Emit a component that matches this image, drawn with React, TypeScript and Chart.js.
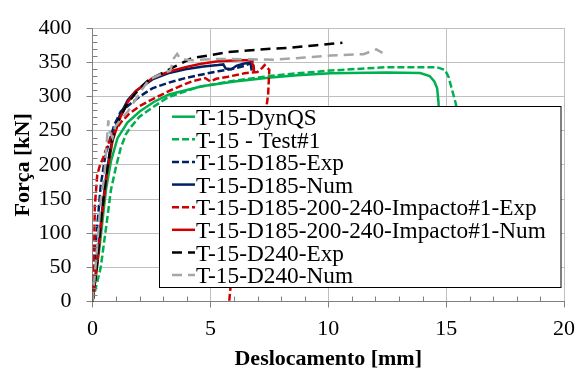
import React, { useEffect, useRef } from "react";
import { Chart, registerables } from "chart.js";

Chart.register(...registerables);

const FONT = "'Liberation Serif', 'Times New Roman', Times, serif";
Chart.defaults.font.family = FONT;

// ---- data (displacement [mm] / force [kN]) ----
const dynQsX = [0, 0.3, 0.57, 0.78, 1.06, 1.48, 2.0, 2.6, 3.24, 4.64, 6.03, 7.56, 8.7, 10.1, 12.5, 13.9, 14.3, 14.5, 14.62, 14.68, 14.7];
const dynQsY = [0, 80, 163, 205, 239, 262, 278, 292, 303, 315, 322, 328, 331, 334, 335, 334.5, 330, 322, 312, 290, 250];

const test1X = [0, 0.35, 0.64, 0.78, 0.99, 1.2, 1.42, 1.62, 1.98, 2.3, 2.54, 3.2, 4.5, 6.0, 7.5, 8.7, 10.1, 12.5, 14.6, 14.95, 15.1, 15.25, 15.4, 15.47, 15.52];
const test1Y = [0, 50, 125, 163, 196, 225, 245, 255, 270, 278, 284, 299, 314, 323, 330, 334, 338, 343, 343, 339, 329, 310, 291, 279, 260];

const d185ExpX = [0, 0.15, 0.35, 0.55, 0.71, 0.92, 1.2, 1.56, 2.0, 2.54, 3.2, 3.94, 4.6, 5.33, 6.0, 6.45, 6.7, 6.8, 6.85];
const d185ExpY = [0, 90, 170, 215, 234, 258, 278, 288, 300, 312, 320, 327, 332, 337, 341, 345, 349, 351, 339];

const d185NumX = [0, 0.2, 0.4, 0.6, 0.85, 1.15, 1.5, 1.84, 2.54, 3.2, 3.94, 4.7, 5.33, 5.55, 5.65, 5.9, 6.1, 6.4, 6.7, 6.75];
const d185NumY = [0, 60, 130, 190, 240, 272, 295, 308, 325, 334, 340, 344, 346, 347, 341, 340, 345, 348, 350, 338];

const impExpX = [0, 0.04, 0.1, 0.2, 0.32, 0.45, 0.64, 0.92, 1.2, 1.56, 2.0, 2.54, 3.24, 3.7, 4.2, 4.78, 5.0, 5.25, 5.75, 6.45, 7.0, 7.2, 7.3, 7.5, 7.45, 7.3, 6.6, 5.85, 5.8];
const impExpY = [0, 20, 140, 185, 200, 210, 229, 248, 262, 275, 286, 296, 308, 315, 322, 327, 322, 326, 329, 334, 336, 342, 346, 339, 303, 265, 150, 20, 0];

const impNumX = [0, 0.2, 0.4, 0.6, 0.85, 1.15, 1.5, 1.84, 2.54, 3.2, 3.94, 4.6, 5.33, 6.2, 6.73, 6.82, 6.86];
const impNumY = [0, 55, 125, 185, 235, 267, 292, 308, 327, 336, 343, 348, 351.6, 353, 353, 345, 335];

const d240ExpX = [0, 0.15, 0.36, 0.57, 0.78, 1.06, 1.48, 2.0, 2.4, 3.0, 3.5, 4.2, 5.76, 7.56, 8.27, 9.5, 10.6];
const d240ExpY = [0, 40, 120, 182, 229, 262, 290, 312, 325, 335, 344, 356, 365, 370, 371, 375, 378.6];

const d240NumX = [0, 0.15, 0.36, 0.5, 0.6, 0.67, 0.72, 0.85, 0.95, 1.1, 1.5, 2.0, 2.4, 3.0, 3.3, 3.45, 3.59, 3.73, 4.2, 5.3, 7.7, 9.0, 10.1, 11.5, 12.04, 12.3];
const d240NumY = [0, 60, 153, 182, 230, 265, 250, 240, 255, 262, 278, 305, 325, 334, 338, 356, 362.5, 355, 353, 355, 354, 357, 360, 362, 369, 364];

const xTickLabels = [0, 5, 10, 15, 20];
const yTickLabels = [0, 50, 100, 150, 200, 250, 300, 350, 400];

const xTitle = "Deslocamento [mm]";
const yTitle = "Força [kN]";

const GREEN = "#00B050";
const NAVY = "#002060";
const RED = "#D00000";
const BLACK = "#000000";
const GRAY = "#A6A6A6";
const SHORT = [7, 3];
const LONG = [10, 6];

const series = [
  { label: "T-15-DynQS", xs: dynQsX, ys: dynQsY, color: GREEN, dash: [] as number[] },
  { label: "T-15 - Test#1", xs: test1X, ys: test1Y, color: GREEN, dash: SHORT },
  { label: "T-15-D185-Exp", xs: d185ExpX, ys: d185ExpY, color: NAVY, dash: SHORT },
  { label: "T-15-D185-Num", xs: d185NumX, ys: d185NumY, color: NAVY, dash: [] as number[] },
  { label: "T-15-D185-200-240-Impacto#1-Exp", xs: impExpX, ys: impExpY, color: RED, dash: SHORT },
  { label: "T-15-D185-200-240-Impacto#1-Num", xs: impNumX, ys: impNumY, color: RED, dash: [] as number[] },
  { label: "T-15-D240-Exp", xs: d240ExpX, ys: d240ExpY, color: BLACK, dash: LONG },
  { label: "T-15-D240-Num", xs: d240NumX, ys: d240NumY, color: GRAY, dash: LONG },
];

const decorPlugin = {
  id: "decor",
  afterDraw(chart: any) {
    const { ctx, chartArea, scales } = chart;
    const xs = scales.x;
    const ys = scales.y;
    ctx.save();
    // minor tick marks (inside)
    ctx.strokeStyle = "#808080";
    ctx.lineWidth = 1;
    ctx.setLineDash([]);
    ctx.beginPath();
    for (let v = 10; v < 400; v += 10) {
      if (v % 50 === 0) continue;
      const py = Math.round(ys.getPixelForValue(v)) + 0.5;
      ctx.moveTo(chartArea.left, py);
      ctx.lineTo(chartArea.left + 5, py);
    }
    for (let v = 1; v < 20; v += 1) {
      if (v % 5 === 0) continue;
      const px = Math.round(xs.getPixelForValue(v)) + 0.5;
      ctx.moveTo(px, chartArea.bottom);
      ctx.lineTo(px, chartArea.bottom - 5);
    }
    ctx.stroke();

    // legend box
    const bx = 159.5, by = 106.5, bw = 401.5, bh = 181;
    ctx.fillStyle = "#ffffff";
    ctx.fillRect(bx, by, bw, bh);
    ctx.strokeStyle = "#000000";
    ctx.lineWidth = 1;
    ctx.strokeRect(bx, by, bw, bh);
    ctx.font = `23.3px ${FONT}`;
    ctx.textAlign = "left";
    ctx.textBaseline = "alphabetic";
    series.forEach((s, i) => {
      const base = 125 + i * 22.62;
      const ly = base - 8.3;
      ctx.beginPath();
      ctx.strokeStyle = s.color;
      ctx.lineWidth = 2.5;
      ctx.setLineDash(s.dash);
      ctx.moveTo(172, ly);
      ctx.lineTo(195, ly);
      ctx.stroke();
      ctx.setLineDash([]);
      ctx.fillStyle = "#000";
      ctx.fillText(s.label, 196, base);
    });

    // axis titles
    ctx.fillStyle = "#000";
    ctx.font = `bold 22px ${FONT}`;
    ctx.textAlign = "center";
    ctx.textBaseline = "alphabetic";
    ctx.fillText(xTitle, (chartArea.left + chartArea.right) / 2, 365);
    ctx.translate(29.3, (chartArea.top + chartArea.bottom) / 2);
    ctx.rotate(-Math.PI / 2);
    ctx.fillText(yTitle, 0, 0);
    ctx.restore();
  },
};

export default function App() {
  const ref = useRef<HTMLCanvasElement | null>(null);
  useEffect(() => {
    if (!ref.current) return;
    const n = series.length;
    const chart = new Chart(ref.current, {
      type: "scatter",
      data: {
        datasets: series.map((s, i) => ({
          label: s.label,
          data: s.xs.map((x, k) => ({ x, y: s.ys[k] })),
          showLine: true,
          borderColor: s.color,
          backgroundColor: s.color,
          borderWidth: 2.5,
          borderDash: s.dash,
          pointRadius: 0,
          tension: 0,
          fill: false,
          order: n - i,
        })),
      },
      options: {
        responsive: false,
        animation: false,
        devicePixelRatio: 1,
        layout: { padding: { top: 20, right: 14, left: 0, bottom: 0 } },
        plugins: { legend: { display: false }, tooltip: { enabled: false } },
        scales: {
          x: {
            type: "linear",
            min: 0,
            max: 20,
            afterBuildTicks: (s: any) => {
              s.ticks = xTickLabels.map((v) => ({ value: v }));
            },
            ticks: { font: { family: FONT, size: 22 }, color: "#000", padding: 9, maxRotation: 0 },
            grid: { color: "#BFBFBF", lineWidth: 1, tickLength: 6, tickColor: "#808080" },
            border: { color: "#808080", width: 1 },
            afterFit: (s: any) => {
              s.height = 67.5;
            },
          },
          y: {
            type: "linear",
            min: 0,
            max: 400,
            afterBuildTicks: (s: any) => {
              s.ticks = yTickLabels.map((v) => ({ value: v }));
            },
            ticks: { font: { family: FONT, size: 22 }, color: "#000", padding: 15 },
            grid: { color: "#BFBFBF", lineWidth: 1, tickLength: 6, tickColor: "#808080" },
            border: { color: "#808080", width: 1 },
            afterFit: (s: any) => {
              s.width = 92.5;
            },
          },
        },
      },
      plugins: [decorPlugin],
    } as any);
    return () => chart.destroy();
  }, []);
  return (
    <div style={{ position: "fixed", left: 0, top: 0, width: 584, height: 369, background: "#fff" }}>
      <canvas ref={ref} width={584} height={369} style={{ display: "block" }} />
    </div>
  );
}
